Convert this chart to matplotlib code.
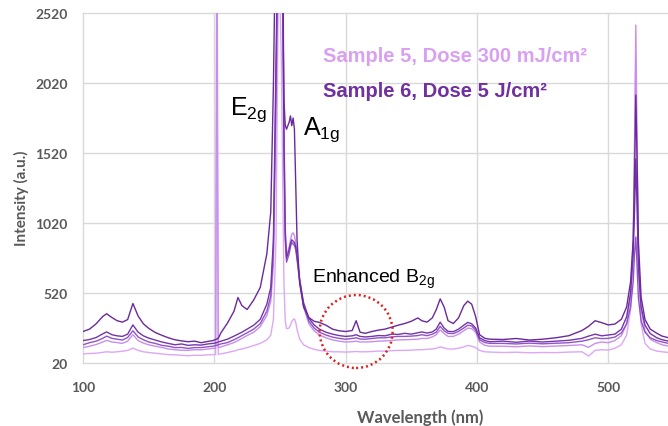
import matplotlib
matplotlib.use("Agg")
import matplotlib.pyplot as plt
from matplotlib.patches import Ellipse

plt.rcParams['font.family'] = ['Liberation Sans', 'DejaVu Sans']
plt.rcParams['mathtext.fontset'] = 'custom'
plt.rcParams['mathtext.rm'] = 'Liberation Sans'
plt.rcParams['mathtext.it'] = 'Liberation Sans:italic'
plt.rcParams['mathtext.bf'] = 'Liberation Sans:bold'
plt.rcParams['mathtext.default'] = 'regular'

# Data
wavelength = [
    100, 105, 110, 115, 118, 122, 126, 130, 134, 138, 142, 146, 150, 155, 160, 165, 170, 175, 180, 185, 190, 195, 199,
    201, 202, 203, 205, 210, 215, 218, 221, 225, 230, 235, 240, 243, 245, 247, 249, 251, 252, 253, 254, 255,
    257, 258, 259, 260, 261, 262, 263, 265, 268, 272, 276, 280, 285, 290, 295, 300, 305, 308, 311, 315,
    320, 325, 330, 335, 340, 345, 350, 355, 358, 362, 366, 369, 372, 375, 378, 382, 386, 390, 393, 396, 399, 402, 406, 410,
    420, 430, 440, 450, 460, 470, 480, 485, 490, 495, 500, 505, 510, 514, 517, 519, 520, 521, 522, 523, 525, 528, 532, 537, 541, 546,
]

# lightest trace (bottom)
trace_5 = [
    85, 88, 90, 96, 100, 97, 100, 104, 110, 126, 110, 100, 95, 90, 85, 80, 78, 75, 72, 75, 75, 78, 80,
    80, 2260, 82, 85, 95, 105, 115, 120, 130, 145, 160, 185, 220, 330, 900, 3000, 2200, 1400, 600, 320, 265,
    270, 290, 315, 330, 335, 310, 260, 190, 150, 130, 118, 110, 105, 100, 100, 98, 100, 102, 100, 100,
    102, 105, 105, 108, 110, 110, 112, 115, 115, 118, 120, 125, 135, 128, 120, 120, 125, 135, 145, 140, 130, 110, 100, 98,
    95, 97, 93, 95, 94, 98, 100, 70, 110, 115, 112, 125, 150, 220, 400, 800, 1500, 2190, 1400, 700, 300, 160, 120, 105, 100, 95,
]
# light trace with the 202 nm spike
trace_4 = [
    130, 140, 152, 170, 182, 170, 166, 160, 176, 222, 180, 162, 150, 140, 131, 120, 115, 111, 110, 115, 114, 120, 125,
    125, 3500, 130, 135, 150, 166, 180, 196, 216, 240, 280, 360, 460, 720, 1800, 3200, 3200, 2900, 1800, 1000, 790,
    850, 900, 940, 950, 930, 880, 800, 620, 420, 300, 250, 220, 200, 185, 176, 170, 172, 176, 170, 170,
    172, 176, 178, 181, 185, 186, 188, 190, 196, 195, 206, 222, 256, 230, 210, 210, 226, 250, 270, 265, 240, 170, 146, 140,
    140, 136, 142, 137, 141, 145, 150, 132, 160, 170, 165, 180, 215, 300, 500, 900, 1600, 2434, 1500, 800, 400, 250, 190, 165, 150, 140,
]
trace_3 = [
    150, 165, 176, 196, 212, 196, 190, 184, 202, 250, 206, 186, 170, 160, 146, 140, 130, 131, 124, 130, 130, 136, 140,
    145, 147, 150, 156, 166, 186, 200, 216, 236, 262, 302, 390, 500, 820, 2000, 3300, 3200, 2800, 1500, 900, 740,
    800, 850, 880, 870, 860, 830, 760, 600, 430, 320, 270, 240, 220, 205, 196, 190, 195, 200, 191, 190,
    195, 200, 200, 206, 210, 210, 212, 216, 222, 215, 226, 240, 282, 250, 232, 230, 246, 270, 290, 285, 255, 186, 166, 160,
    160, 156, 162, 157, 161, 165, 176, 186, 200, 194, 196, 205, 235, 300, 420, 600, 800, 920, 700, 480, 320, 240, 200, 180, 170, 160,
]
trace_2 = [
    180, 188, 202, 228, 242, 222, 214, 210, 226, 292, 240, 214, 198, 184, 170, 160, 150, 156, 146, 150, 148, 156, 160,
    164, 166, 170, 176, 190, 212, 226, 240, 262, 290, 332, 440, 560, 900, 2200, 3400, 3300, 2900, 1700, 950, 770,
    830, 875, 900, 890, 880, 850, 780, 615, 450, 340, 292, 262, 240, 226, 216, 210, 214, 222, 210, 206,
    210, 216, 214, 226, 224, 232, 226, 236, 242, 234, 242, 262, 312, 270, 246, 244, 262, 290, 310, 300, 270, 200, 180, 172,
    176, 168, 177, 170, 176, 182, 196, 212, 226, 214, 220, 226, 262, 350, 520, 800, 1100, 1477, 1100, 700, 420, 290, 230, 200, 186, 176,
]
# darkest trace (top baseline, A1g doublet)
trace_1 = [
    245, 262, 300, 352, 372, 345, 322, 312, 330, 445, 355, 300, 268, 238, 218, 200, 186, 178, 172, 176, 165, 174, 180,
    188, 192, 196, 235, 305, 390, 488, 430, 402, 470, 560, 800, 1100, 2000, 3300, 3500, 3400, 3000, 1900, 1720, 1690,
    1740, 1785, 1715, 1770, 1690, 1300, 900, 590, 420, 345, 318, 310, 290, 262, 250, 245, 252, 322, 240, 232,
    245, 255, 262, 276, 290, 302, 318, 342, 322, 312, 342, 400, 478, 420, 322, 302, 342, 430, 462, 440, 352, 222, 196, 190,
    188, 195, 184, 190, 200, 215, 252, 282, 322, 308, 292, 298, 332, 420, 600, 900, 1350, 1934, 1450, 880, 490, 330, 262, 232, 212, 200,
]

traces = [trace_5, trace_4, trace_3, trace_2, trace_1]
trace_colors = ['#DCA8F5', '#C98EEC', '#8F55C8', '#7535AB', '#6A2A9C']

legend_labels = ['Sample 5, Dose 300 mJ/cm\u00b2', 'Sample 6, Dose 5 J/cm\u00b2']
legend_colors = ['#D9A0F2', '#7030A0']

xticks = [100, 200, 300, 400, 500]
yticks = [20, 520, 1020, 1520, 2020, 2520]

gray = '#595959'

fig = plt.figure(figsize=(6.68, 4.27), dpi=100)
ax = fig.add_axes([83 / 668, 63 / 427, 585 / 668, 350 / 427])

for y, c in zip(traces, trace_colors):
    ax.plot(wavelength, y, color=c, lw=1.0)

ax.set_xlim(100, 545.5)
ax.set_ylim(20, 2520)
ax.set_xticks(xticks)
ax.set_yticks(yticks)
ax.grid(True, color='#D9D9D9', lw=1.0)
ax.set_axisbelow(True)
for gl in ax.xaxis.get_gridlines() + ax.yaxis.get_gridlines():
    gl.set_clip_on(False)
for s in ax.spines.values():
    s.set_visible(False)
ax.tick_params(length=0, colors=gray, labelsize=10)
ax.tick_params(axis='y', pad=11)
ax.tick_params(axis='x', pad=13)
for lab in ax.get_xticklabels() + ax.get_yticklabels():
    lab.set_fontweight('bold')
    lab.set_family('Lato')

fig.text(21 / 668, 1 - 198 / 427, 'Intensity (a.u.)', rotation=90, ha='center', va='center',
         color=gray, fontsize=11, fontweight='bold', family='Lato')
fig.text(420 / 668, 1 - 423 / 427, 'Wavelength (nm)', ha='center', va='baseline',
         color=gray, fontsize=12, fontweight='bold', family='Lato')

# peak labels
ax.text(212, 1798, r'E$_{2g}$', fontsize=18, va='baseline')
ax.text(267.6, 1655, r'A$_{1g}$', fontsize=18, va='baseline')
ax.text(274.4, 598, r'Enhanced B$_{2g}$', fontsize=14, va='baseline')

# legend as coloured text
ax.text(282.8, 2176, legend_labels[0], color=legend_colors[0], fontsize=14.5, fontweight='bold', va='baseline')
ax.text(282.8, 1926, legend_labels[1], color=legend_colors[1], fontsize=14.5, fontweight='bold', va='baseline')

# dotted circle around B2g
ax.add_patch(Ellipse((308, 245), 55.6, 521, fill=False, edgecolor='#E02020', lw=1.8,
                     linestyle=(0, (0.8, 1.2)), clip_on=False, zorder=5))

fig.savefig('out.png', dpi=100)
